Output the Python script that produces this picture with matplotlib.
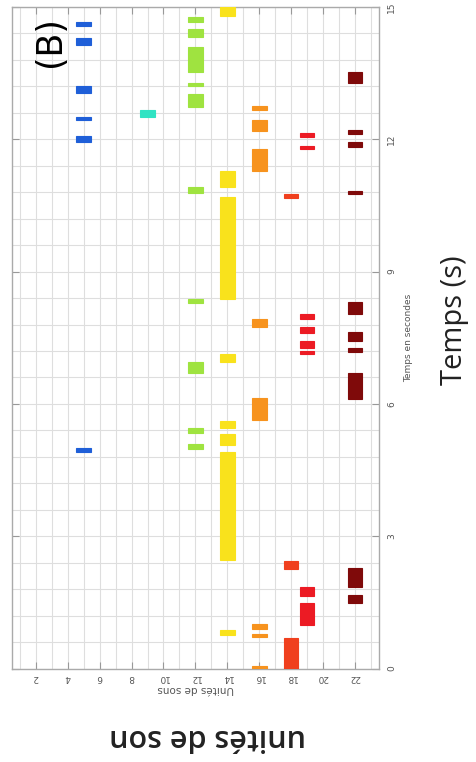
import matplotlib
matplotlib.use('Agg')
import matplotlib.pyplot as plt
import numpy as np

# unités de son (axe horizontal, inversé) et segments (début, fin) en secondes
units = [5, 9, 12, 14, 16, 18, 19, 22]
colors = ['#1f5fd8', '#30e3c3', '#9fe340', '#f9e21c',
          '#f7931e', '#f0401e', '#ec1b24', '#7f0a0a']

seg_5 = [(14.56, 14.66), (14.13, 14.29), (13.04, 13.21), (12.44, 12.50),
         (11.94, 12.07), (4.90, 5.00)]
seg_9 = [(12.50, 12.66)]
seg_12 = [(14.66, 14.78), (14.32, 14.51), (13.53, 14.10), (13.21, 13.27),
          (12.74, 13.02), (10.79, 10.91), (8.28, 8.39), (6.71, 6.96),
          (5.35, 5.45), (4.97, 5.09)]
seg_14 = [(14.79, 15.0), (10.92, 11.29), (8.39, 10.70), (6.96, 7.13),
          (5.45, 5.62), (5.07, 5.31), (2.45, 4.92), (0.77, 0.88)]
seg_16 = [(12.66, 12.75), (12.19, 12.44), (11.29, 11.77), (7.74, 7.92),
          (5.64, 6.13), (0.89, 1.01), (0.71, 0.79), (0.0, 0.06)]
seg_18 = [(10.68, 10.77), (2.25, 2.44), (0.0, 0.69)]
seg_19 = [(12.06, 12.15), (11.77, 11.85), (7.92, 8.05), (7.60, 7.74),
          (7.26, 7.43), (7.13, 7.21), (1.65, 1.85), (0.99, 1.48)]
seg_22 = [(13.27, 13.53), (12.13, 12.21), (11.82, 11.94), (10.75, 10.83),
          (8.04, 8.30), (7.43, 7.62), (7.18, 7.26), (6.11, 6.71),
          (1.84, 2.28), (1.48, 1.66)]
segments = [seg_5, seg_9, seg_12, seg_14, seg_16, seg_18, seg_19, seg_22]

unit_ticks = list(range(2, 23, 2))
time_ticks = [0, 3, 6, 9, 12, 15]

fig = plt.figure(figsize=(4.76, 7.62), dpi=100)
ax = fig.add_axes([0.025, 0.1227, 0.771, 0.8681])

for u, col, segs in zip(units, colors, segments):
    starts = np.array([s for s, e in segs])
    ends = np.array([e for s, e in segs])
    ax.bar([u] * len(segs), ends - starts, bottom=starts, width=0.92,
           color=col, edgecolor=col, linewidth=0.8, zorder=3)

ax.set_xlim(0.5, 23.5)
ax.set_ylim(0, 15)

ax.set_xticks(unit_ticks)
ax.set_xticks(np.arange(1, 24, 1), minor=True)
ax.set_yticks(time_ticks)
ax.set_yticks(np.arange(0, 15.01, 0.6), minor=True)
ax.grid(which='both', color='#dedede', linewidth=0.8, zorder=0)
ax.set_axisbelow(True)

ax.yaxis.tick_right()
ax.yaxis.set_label_position('right')
ax.tick_params(which='major', direction='in', length=5, width=0.8,
               color='#999999', labelsize=6.5, labelcolor='#555555',
               top=True, bottom=True, left=True, right=True)
ax.tick_params(which='minor', length=0)
ax.set_xticklabels([str(t) for t in unit_ticks], rotation=180)
ax.set_yticklabels([str(t) for t in time_ticks], rotation=90, va='center')
ax.tick_params(axis='x', pad=3)
ax.tick_params(axis='y', pad=6)

for sp in ax.spines.values():
    sp.set_color('#aaaaaa')
    sp.set_linewidth(1.0)

ax.set_xlabel('Unités de sons', rotation=180, fontsize=7.5, color='#555555',
              labelpad=2)
ax.set_ylabel('Temps en secondes', rotation=90, fontsize=6.5, color='#555555',
              labelpad=6)

fig.text(0.105, 0.946, '(B)', rotation=90, fontsize=25, ha='center',
         va='center', color='black')
fig.text(0.955, 0.58, 'Temps (s)', rotation=90, fontsize=21, ha='center',
         va='center', color='#222222', family=['Open Sans', 'DejaVu Sans'])
fig.text(0.437, 0.033, 'unités de son', rotation=180, fontsize=22,
         ha='center', va='center', color='#222222', fontweight='semibold',
         family=['Open Sans', 'DejaVu Sans'])

fig.savefig('out.png', dpi=100)
